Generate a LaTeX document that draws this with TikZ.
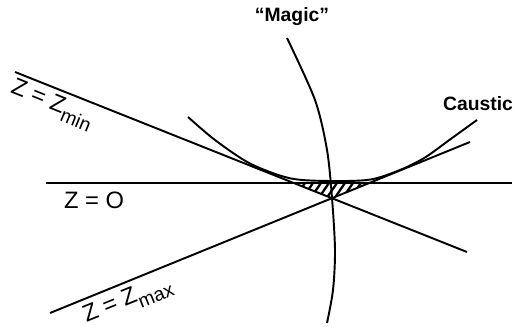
\documentclass[tikz,border=0pt]{standalone}
\usepackage{fontspec}
\setmainfont{Liberation Sans}
\usepackage{tikz}
\newcommand{\lowsub}[1]{\raisebox{-0.6ex}{\fontsize{11}{11}\selectfont #1}}

\begin{document}
\begin{tikzpicture}[x=0.02cm,y=-0.02cm,
  ray/.style={line width=1.1pt},
  lbl/.style={font=\fontsize{13.5}{14}\selectfont},
  tag/.style={font=\bfseries\fontsize{11}{12}\selectfont}]
\useasboundingbox (0,0) rectangle (514,327);
\coordinate (minA) at (15,72);
\coordinate (minB) at (467,252);
\coordinate (maxA) at (50,313);
\coordinate (maxB) at (470,142);
\coordinate (zeroA) at (46,183);
\coordinate (zeroB) at (512,183);
\begin{scope}
\clip (294,183) -- (369,183) -- (332,198.2) -- cycle;
\foreach \x in {276,284,...,372} \draw[line width=1.3pt] (\x,202) -- ++(15,-22);
\end{scope}
\draw[ray] (zeroA) -- (zeroB);
\draw[ray] (minA) -- (minB);
\draw[ray] (maxA) -- (maxB);
\draw[ray] plot[smooth] coordinates {(287,38) (315,100) (327,150) (332,198) (335,250) (333,290) (327,323)};
\draw[ray] plot[smooth] coordinates {(188,117) (215,140) (250,163.5) (290,178.3) (330,181) (370,179.6) (400,170) (425,157.5) (450,139.5) (477,120)};
\node[tag] (magic) at (292,17) {``Magic''};
\node[tag] (caustic) at (478,104) {Caustic};
\node[lbl] (zzero) at (94,200) {Z = O};
\node[lbl,rotate=-22] (zmin) at (52,105) {Z = Z\lowsub{min}};
\node[lbl,rotate=22] (zmax) at (128,301) {Z = Z\lowsub{max}};
\end{tikzpicture}
\end{document}
